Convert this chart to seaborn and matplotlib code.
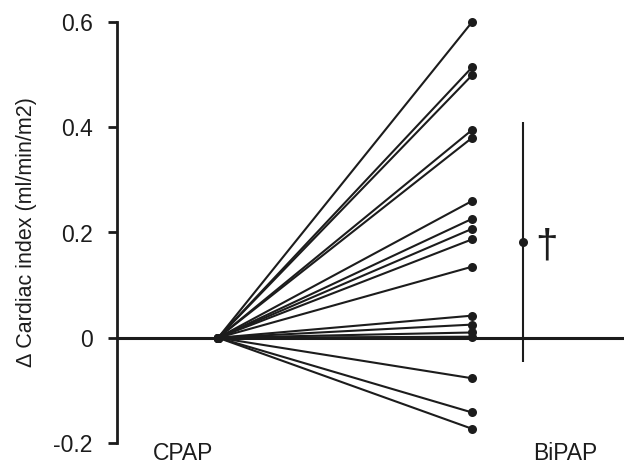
import numpy as np
import pandas as pd
import matplotlib
matplotlib.use("Agg")
import matplotlib.pyplot as plt
import seaborn as sns

# Data (change in cardiac index, CPAP baseline = 0)
conditions = ["CPAP", "BiPAP"]
cpap_values = [0.0] * 17
bipap_values = [0.600, 0.514, 0.499, 0.395, 0.380, 0.260, 0.226, 0.207,
                0.187, 0.135, 0.042, 0.025, 0.010, 0.002, -0.077, -0.142, -0.173]
bipap_mean = [0.182]
bipap_sd = [0.228]
y_ticks = [-0.2, 0.0, 0.2, 0.4, 0.6]
y_tick_labels = ["-0.2", "0", "0.2", "0.4", "0.6"]

sns.set_theme(style="white")
plt.rcParams["font.family"] = ["Liberation Sans", "DejaVu Sans"]

rows = []
for i, (a, b) in enumerate(zip(cpap_values, bipap_values)):
    rows.append({"subject": i, "pos": 1, "value": a})
    rows.append({"subject": i, "pos": 2, "value": b})
df = pd.DataFrame(rows)

fig = plt.figure(figsize=(6.24, 4.65), dpi=100)
ax = fig.add_axes([117 / 624, 22 / 465, 1 - 117 / 624, 421 / 465])

ink = "#1c1c1c"
ax.axhline(0, color=ink, lw=2.2, zorder=1)
sns.lineplot(data=df, x="pos", y="value", units="subject", estimator=None,
             color=ink, lw=1.5, marker="o", markersize=6.5, markeredgewidth=0,
             ax=ax, legend=False, zorder=3)
for ln in ax.lines:
    ln.set_clip_on(False)

ax.errorbar([2.2], bipap_mean, yerr=bipap_sd, fmt="o", color=ink, ms=6.5,
            mew=0, elinewidth=1.5, capsize=2.5, capthick=1.5, zorder=3,
            clip_on=False)
ax.text(2.2 + 0.091, bipap_mean[0] - 0.008, "\u2020", fontsize=29, color=ink,
        ha="center", va="center")

ax.set_xlim(0.602, 2.598)
ax.set_ylim(-0.2, 0.6)
ax.set_yticks(y_ticks)
ax.set_yticklabels(y_tick_labels)
ax.set_xticks([])
ax.set_xlabel("")
ax.set_ylabel("\u0394 Cardiac index (ml/min/m2)", fontsize=15.5, color=ink,
              labelpad=12)
ax.tick_params(axis="y", direction="out", length=6.5, width=2.0, left=True,
               labelsize=16.5, colors=ink, pad=11)

for s in ["top", "right", "bottom"]:
    ax.spines[s].set_visible(False)
ax.spines["left"].set_linewidth(2.0)
ax.spines["left"].set_color(ink)

fig.text(183 / 624, 1 - 453 / 465, conditions[0], ha="center", va="center",
         fontsize=16.5, color=ink)
fig.text(565 / 624, 1 - 453 / 465, conditions[1], ha="center", va="center",
         fontsize=16.5, color=ink)

fig.savefig("out.png", dpi=100, facecolor="white")
